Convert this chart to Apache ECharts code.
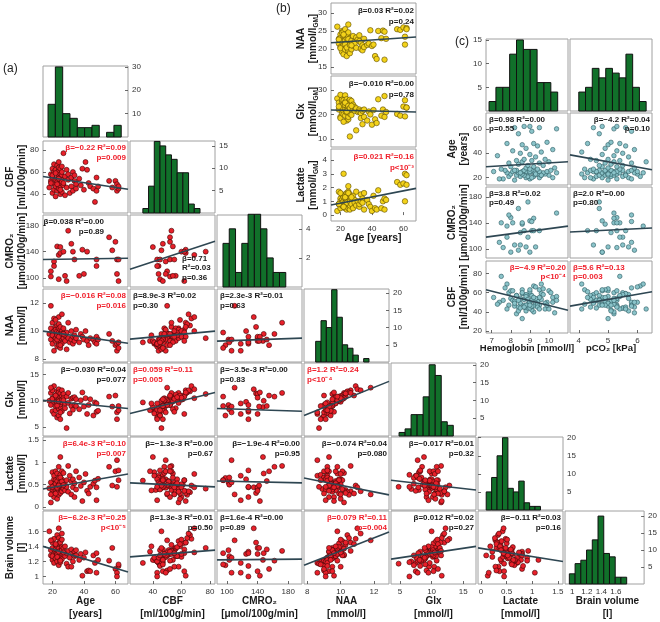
<!DOCTYPE html>
<html><head><meta charset="utf-8">
<script src="https://cdn.jsdelivr.net/npm/echarts@6/dist/echarts.min.js"></script>
<style>html,body{margin:0;padding:0;background:#fff}#c{width:660px;height:622px}</style>
</head><body><div id="c"></div>
<script>
// ---------------- DATA (per subject) ----------------
const age = [18,19,19,20,20,20,21,21,21,21, 22,22,20,19,22,22,23,23,23,23, 23,24,24,24,24,24,24,25,25,25,
  25,25,25,25,26,26,26,26,26,23, 24,25,22,26,27,27,28,28,29,29, 30,30,31,27,32,32,33,33,34,34,
  35,35,37,38,39,40,41,42,43,44, 46,47,48,48,49,56,58,60,61,61, 62,62];
const cbf = [46,58,52,63,41,55,49,67,60,44, 53,38,57,50,62,47,66,54,43,59, 51,69,48,56,61,45,64,52,40,58,
  55,47,63,50,57,42,60,53,65,49, 54,44,59,51,77,48,56,39,62,46, 53,58,41,50,47,55,60,43,52,57,
  49,45,54,48,63,44,69,62,50,47, 45,33,55,43,47,52,46,52,49,43, 45,47];
const cmro2 = [null,null,102,null,null,null,125,null,null,118, null,null,null,110,null,null,null,148,null,null,
  null,135,null,null,null,98,null,null,147,null, null,null,138,null,null,null,null,null,null,null,
  null,null,null,null,140,null,103,null,95,null, 172,null,null,null,152,null,140,null,128,null,
  null,null,103,null,143,106,null,140,null,null, null,null,128,118,null,162,142,155,106,128, 128,95];
const naa = [9.8,10.2,9.4,10.6,9.1,9.9,10.0,10.9,9.6,8.6, 10.3,9.3,9.7,11.8,10.1,9.5,10.4,9.8,8.9,10.0,
  9.7,11.0,9.2,10.2,9.9,9.0,10.5,9.6,9.3,10.1, 9.8,8.8,10.3,9.5,9.9,9.1,10.0,9.7,11.2,9.4,
  9.6,9.0,10.8,9.8,9.5,10.2,9.3,9.7,9.9,8.7, 10.6,9.5,9.2,9.8,9.4,10.0,9.6,9.1,9.3,9.7,
  10.1,9.5,9.2,9.8,9.6,9.4,10.0,9.3,9.0,9.5, 9.4,9.2,9.6,9.1,9.4,9.8,9.3,9.0,8.6,9.1, 9.2,8.8];
const glx = [10.0,11.5,9.2,12.0,8.0,10.5,9.8,12.8,10.2,7.5, 10.8,8.2,10.4,12.5,11.0,9.0,11.8,10.0,6.8,10.6,
  9.6,12.2,8.5,11.2,10.3,7.2,11.6,9.4,8.8,10.7, 10.1,6.5,11.4,9.3,10.0,8.0,10.9,9.7,12.0,9.1,
  9.9,7.8,11.0,10.2,11.3,10.5,8.6,9.5,10.8,4.8, 11.5,9.6,7.6,10.1,9.0,10.4,10.6,8.3,9.2,10.7,
  10.3,9.0,8.4,10.1,11.6,8.9,10.5,7.5,9.2,10.3, 7.2,9.7,7.9,9.5,8.1,10.8,8.9,11.0,7.8,6.5, 8.2,9.0];
const lactate = [0.42,0.10,0.55,0.35,0.78,0.30,0.62,0.48,0.22,0.70, 0.38,0.80,0.45,0.28,0.60,0.52,0.33,0.75,0.40,0.18,
  0.58,0.44,0.90,0.36,0.50,0.65,0.27,0.47,1.12,0.40, 0.55,0.72,0.31,0.46,0.62,0.38,0.51,0.80,0.35,0.43,
  0.48,0.66,0.30,0.57,0.41,0.76,0.50,0.37,0.60,0.45, 0.92,0.34,0.70,0.49,0.58,0.28,0.44,0.62,0.22,0.53,
  0.80,0.39,0.66,0.47,0.13,0.55,0.74,0.36,0.30,0.45, 0.52,0.59,0.44,0.15,0.63,0.90,0.48,0.80,1.05,0.45, 0.82,0.60];
const brainVol = [1.60,1.28,1.35,1.45,1.22,1.38,1.30,1.50,1.26,1.18, 1.42,1.33,1.27,1.48,1.36,1.24,1.55,1.31,1.20,1.40,
  1.29,1.64,1.25,1.37,1.44,1.15,1.51,1.32,1.22,1.47, 1.34,1.19,1.45,1.28,1.39,1.23,1.49,1.30,1.57,1.26,
  1.33,1.21,1.43,1.35,1.38,1.29,1.27,1.40,1.31,1.17, 1.34,1.13,1.25,1.32,1.36,1.13,1.30,1.20,1.33,1.27,
  1.28,1.35,1.22,1.30,1.01,1.25,1.32,1.07,1.08,1.07, 1.28,1.18,1.31,1.05,1.22,1.21,1.38,1.10,1.05,1.00, 1.14,1.16];
// panel (b): grey-matter corrected concentrations
const naaGM = [26.2,21.5,22.8,24.0,20.5,23.0,25.0,19.2,22.0,24.5, 21.0,23.5,20.2,22.6,18.5,24.8,21.8,23.2,19.8,22.4,
  25.5,20.8,23.8,21.2,18.0,22.9,24.2,20.0,26.8,21.6, 23.4,19.5,22.1,24.6,20.6,21.9,23.0,18.8,22.5,21.3,
  20.4,22.7,24.0,21.1,22.3,19.9,23.6,20.9,22.0,21.5, 23.2,20.3,22.6,21.0,23.8,22.2,21.7,20.0,19.6,21.0,
  22.8,20.5,21.1,21.5,25.2,20.8,21.2,18.0,17.2,25.0, 23.0,25.1,24.8,17.0,22.8,25.5,25.3,26.0,23.4,21.2, 25.8,25.5];
const glxGM = [26.5,24.8,22.0,28.0,19.0,23.5,25.5,20.5,22.8,26.0, 21.0,24.0,18.5,23.2,25.8,20.0,22.5,27.8,19.5,23.8,
  25.0,21.5,24.5,17.5,22.2,26.2,20.8,23.6,18.0,25.3, 21.8,24.2,19.0,22.7,26.0,20.3,23.0,11.0,22.1,24.8,
  21.2,23.5,17.0,22.6,25.5,19.8,22.0,24.0,21.5,23.0, 22.5,13.5,21.0,23.5,22.0,21.2,20.5,18.5,16.0,21.5,
  19.0,22.0,17.5,21.2,20.0,15.8,21.8,18.0,16.5,26.2, 19.5,22.0,27.5,19.0,21.0,20.2,19.5,23.2,25.8,19.2, 22.8,22.8];
const lacGM = [0.3,1.7,0.8,1.2,0.5,1.0,1.5,0.7,1.1,0.9, 1.3,0.6,1.6,0.8,1.0,3.0,0.5,1.2,0.9,1.4,
  0.7,1.1,1.6,0.4,1.0,0.8,1.3,0.6,1.7,0.9, 2.1,0.5,1.2,0.8,1.5,1.0,0.4,1.1,0.7,1.3,
  0.9,1.6,0.6,1.0,1.2,0.8,1.4,0.5,1.1,0.9, 1.7,0.7,1.0,1.3,0.6,0.8,1.5,1.0,1.2,0.9,
  1.6,0.4,1.1,0.8,0.6,0.3,1.4,0.5,0.4,1.8, 0.5,1.0,0.4,1.2,1.1,2.4,2.2,2.3,3.0,1.0, 2.2,2.9];
// panel (c)
const hemoglobin = [8.2,9.0,7.6,9.5,8.8,10.2,8.5,9.2,7.9,8.9, 9.6,8.3,9.1,7.4,10.0,8.7,9.3,8.0,9.8,8.6,
  9.4,7.8,8.9,10.4,9.0,8.4,9.7,8.1,9.2,8.8, 7.1,9.5,8.6,9.9,8.3,9.1,10.1,8.7,7.7,9.3,
  8.5,9.0,9.6,8.2,7.5,9.4,8.8,10.3,8.0,9.2, 8.9,9.7,8.4,9.0,7.9,9.5,8.6,10.0,9.1,8.3,
  9.8,8.7,9.3,7.3,9.0,8.5,9.6,8.1,10.2,8.8, 9.4,8.6,9.2,7.8,9.9,8.4,9.1,10.4,8.2,9.5, 8.7,9.0];
const pco2 = [5.0,4.5,5.3,4.2,5.7,4.8,5.1,6.1,4.6,5.5, 4.9,5.2,4.4,5.8,5.0,4.7,6.0,5.3,4.1,5.6,
  5.1,6.2,4.8,5.4,4.3,5.9,5.0,4.6,5.2,5.7, 4.5,5.3,4.9,6.0,4.7,5.1,5.5,4.4,5.8,5.0,
  5.2,4.6,5.6,4.9,5.4,4.2,5.0,5.9,4.8,5.3, 4.7,5.5,5.1,4.5,5.8,4.9,5.2,6.3,4.6,5.4,
  5.0,4.4,5.7,5.2,4.8,5.5,4.1,5.3,5.9,4.9, 5.6,5.0,4.3,5.4,5.1,4.7,5.8,5.2,4.5,5.6, 5.3,4.8];

// histogram counts and bins [first edge, bin width]
const histAge = [14,30,10,8,4,4,5,0,2,5];        const binsAge = [17.2, 4.65];
const histCbf = [1,6,16,15,13,12,9,9,2,1];       const binsCbf = [33, 4];
const histCmro2 = [3,4,1,3,5,5,4,2,1,1];         const binsCmro2 = [94.8, 8.2];
const histNaa = [6,12,10,21,13,5,4,2,0,1];       const binsNaa = [8.5, 0.32];
const histGlx = [1,2,6,6,11,20,17,4,3];          const binsGlx = [4.87, 0.95];
const histLac = [5,9,15,20,6,5,8,2,1,1];         const binsLac = [0.1, 0.106];
const histBv = [3,6,7,10,13,20,9,8,2,2];         const binsBv = [0.96, 0.079];
const histHb = [2,5,5,12,15,13,13,6,6,4];        const binsHb = [6.86, 0.36];
const histPco2 = [4,5,9,7,9,8,7,12,5,2];         const binsPco2 = [4.0, 0.23];

// regression line values [y at axis min, y at axis max], lower triangle row by row
const fitRowCbf = [[56,44.5]];
const fitRowCmro2 = [[128,130],[113,156]];
const fitRowNaa = [[10.0,9.14],[9.43,10.0],[9.29,9.5]];
const fitRowGlx = [[10.1,8.55],[7.6,11.6],[8.55,8.0],[7.2,13.7]];
const fitRowLac = [[0.4,0.74],[0.54,0.45],[0.58,0.54],[0.65,0.27],[0.6,0.38]];
const fitRowBv = [[1.40,1.06],[1.26,1.35],[1.22,1.23],[1.15,1.59],[1.23,1.40],[1.38,1.20]];
const fitB = [[21.7,23.3],[21.8,21.0],[0.73,1.94]];
const fitC = [[29,33],[38.7,26.5],[118,135],[126,132],[63,41.6],[46,61]];

// statistics text and p values
const statsA = [
  ['β=−0.22 R²=0.09\np=0.009',0.009],
  ['β=0.038 R²=0.00\np=0.89',0.89],['β=0.71\nR²=0.03\np=0.36',0.36],
  ['β=−0.016 R²=0.08\np=0.016',0.016],['β=8.9e-3 R²=0.02\np=0.30',0.30],['β=2.3e-3 R²=0.01\np=0.63',0.63],
  ['β=−0.030 R²=0.04\np=0.077',0.077],['β=0.059 R²=0.11\np=0.005',0.005],['β=−3.5e-3 R²=0.00\np=0.83',0.83],['β=1.2 R²=0.24\np<10⁻⁴',0.0001],
  ['β=6.4e-3 R²=0.10\np=0.007',0.007],['β=−1.3e-3 R²=0.00\np=0.67',0.67],['β=−1.9e-4 R²=0.00\np=0.95',0.95],['β=−0.074 R²=0.04\np=0.080',0.080],['β=−0.017 R²=0.01\np=0.32',0.32],
  ['β=−6.2e-3 R²=0.25\np<10⁻⁵',0.00001],['β=1.3e-3 R²=0.01\np=0.50',0.50],['β=1.6e-4 R²=0.00\np=0.89',0.89],['β=0.079 R²=0.11\np=0.004',0.004],['β=0.012 R²=0.02\np=0.27',0.27],['β=−0.11 R²=0.03\np=0.16',0.16]
];
const statsB = [['β=0.03 R²=0.02\np=0.24',0.24],['β=−0.010 R²=0.00\np=0.78',0.78],['β=0.021 R²=0.16\np<10⁻³',0.001]];
const statsC = [['β=0.98 R²=0.00\np=0.55',0.55],['β=−4.2 R²=0.04\np=0.10',0.10],['β=3.8 R²=0.02\np=0.49',0.49],
  ['β=2.0 R²=0.00\np=0.80',0.80],['β=−4.9 R²=0.20\np<10⁻⁴',0.0001],['β=5.6 R²=0.13\np=0.003',0.003]];

// tick labels
const ticksAge = [20,40,60], ticksCbf = [40,60,80], ticksCmro2 = [100,140,180], ticksNaa = [8,10,12],
      ticksGlx = [5,10,15], ticksLac = [0,0.5,1,1.5], ticksBv = [1,1.2,1.4,1.6];
const ticksHistAge = [10,20,30], ticksHistCbf = [5,10,15], ticksHistCmro2 = [2,4], ticksHist20 = [5,10,15,20];
const ticksNaaGM = [15,20,25,30], ticksGlxGM = [10,20,30], ticksLacGM = [0,1,2,3,4];
const ticksHb = [7,8,9,10], ticksPco2 = [4,5,6], ticksCbfC = [20,40,60,80], ticksHistC = [5,10,15];

// ---------------- RENDER ----------------
const FONT = '"Liberation Sans", Arial, sans-serif';
const RED = '#f0202c', DARK = '#1a1a1a';
const G=[], XA=[], YA=[], S=[], GR=[];

function axis(i, range, ticks, pos){
  const a = {gridIndex:i, type:'value', min:range[0], max:range[1], position:pos,
    axisLine:{show:false}, splitLine:{show:false},
    axisTick:{show:false}, axisLabel:{show:false}};
  if (ticks){
    a.axisTick = {show:true, inside:true, length:3, customValues:ticks, lineStyle:{color:'#444', width:0.8}};
    a.axisLabel = {show:true, customValues:ticks, fontSize:8, fontFamily:FONT, color:'#333', margin:4};
  }
  return a;
}
function cell(x,y,w,h,xr,yr,xt,yt,yRight){
  const i = G.length;
  G.push({left:x, top:y, width:w, height:h, show:true, borderColor:'#a0a0a0', borderWidth:1, backgroundColor:'#fff'});
  XA.push(axis(i,xr,xt,'bottom'));
  YA.push(axis(i,yr,yt,yRight?'right':'left'));
  return i;
}
function scatter(i, xs, ys, color, edge, size){
  const d=[];
  for (let k=0;k<xs.length;k++){ if (xs[k]!=null && ys[k]!=null) d.push([xs[k],ys[k]]); }
  S.push({type:'scatter', xAxisIndex:i, yAxisIndex:i, data:d, symbolSize:size, silent:true,
    itemStyle:{color:color, borderColor:edge, borderWidth:0.6, opacity:1}});
}
function fitLine(i, xr, ends){
  S.push({type:'line', xAxisIndex:i, yAxisIndex:i, data:[[xr[0],ends[0]],[xr[1],ends[1]]], symbol:'none', silent:true,
    lineStyle:{color:'#2e4652', width:1.6}, z:3});
}
function hist(i, counts, bins){
  const d = counts.map((c,k)=>[bins[0]+k*bins[1], bins[0]+(k+1)*bins[1], c]).filter(v=>v[2]>0);
  S.push({type:'custom', xAxisIndex:i, yAxisIndex:i, data:d, silent:true, encode:{x:[0,1], y:2},
    renderItem:(p,api)=>{
      const a = api.coord([api.value(0),0]), b = api.coord([api.value(1),api.value(2)]);
      return {type:'rect', shape:{x:a[0], y:b[1], width:b[0]-a[0], height:a[1]-b[1]},
        style:{fill:'#11702a', stroke:'#111', lineWidth:1}};
    }});
}
function text(x,y,t,o){
  o=o||{};
  GR.push({type:'text', x:x, y:y, rotation:o.rot||0, silent:true, z:100,
    style:{text:t, font:o.font||('bold 10px '+FONT), fill:o.color||DARK,
      align:o.align||'center', textAlign:o.align||'center',
      verticalAlign:o.va||'middle', textVerticalAlign:o.va||'middle',
      lineHeight:o.lh||12, rich:o.rich}});
}
function stat(rect, s, place, lh){
  const [x0,y0,w,h] = rect;
  const col = s[1] < 0.05 ? RED : DARK;
  const f = 'bold 8px ' + FONT;
  lh = lh || 10;
  if (place==='tr') text(x0+w-2, y0+2, s[0], {align:'right', va:'top', font:f, color:col, lh:lh});
  else if (place==='tl') text(x0+3, y0+2, s[0], {align:'left', va:'top', font:f, color:col, lh:lh});
  else if (place==='tm') text(x0+61, y0+2, s[0], {align:'right', va:'top', font:f, color:col, lh:lh});
  else if (place==='br') text(x0+52, y0+39, s[0], {align:'left', va:'top', font:f, color:col, lh:9.5});
}

// ---- panel (a)
const colX = [43,130,217,304,391,478,565], colW = 85;
const rowY = [66,141,215,289,363,437,511], rowH = [71,72,72,73,73,73,73];
const vals = [age, cbf, cmro2, naa, glx, lactate, brainVol];
const xRng = [[14,68],[24,83.5],[87,198],[7.8,12.9],[3.6,17],[-0.06,1.6],[0.9,1.99]];
const yRng = [[14,68],[23,88],[86,196],[7.8,13],[3.3,17.2],[-0.07,1.57],[0.9,1.87]];
const ticks = [ticksAge, ticksCbf, ticksCmro2, ticksNaa, ticksGlx, ticksLac, ticksBv];
const hists = [[histAge,binsAge,30.4,ticksHistAge],[histCbf,binsCbf,16.1,ticksHistCbf],[histCmro2,binsCmro2,4.95,ticksHistCmro2],
  [histNaa,binsNaa,21.2,ticksHist20],[histGlx,binsGlx,20.5,ticksHist20],[histLac,binsLac,20.2,ticksHist20],[histBv,binsBv,21.5,ticksHist20]];
const fitsA = [[],fitRowCbf,fitRowCmro2,fitRowNaa,fitRowGlx,fitRowLac,fitRowBv];
const placeA = {'1,0':'tr','2,0':'tm','2,1':'br','3,0':'tr','3,1':'tl','3,2':'tl','4,0':'tr','4,1':'tl','4,2':'tl','4,3':'tl',
  '6,2':'tl'};
let si = 0;
for (let r=0;r<7;r++){
  for (let c=0;c<=r;c++){
    const x=colX[c], y=rowY[r], h=rowH[r];
    if (r===c){
      const hh = hists[r];
      const i = cell(x,y,colW,h,xRng[c],[0,hh[2]], r===6?ticks[c]:null, hh[3], true);
      hist(i, hh[0], hh[1]);
    } else {
      const i = cell(x,y,colW,h,xRng[c],yRng[r], r===6?ticks[c]:null, c===0?ticks[r]:null, false);
      scatter(i, vals[c], vals[r], '#e8202a', '#3a0505', 5);
      fitLine(i, xRng[c], fitsA[r][c]);
      stat([x,y,colW,h], statsA[si], placeA[r+','+c]||'tr');
      si++;
    }
  }
}
const namesA = ['Age\n[years]','CBF\n[ml/100g/min]','CMRO₂\n[μmol/100g/min]','NAA\n[mmol/l]','Glx\n[mmol/l]','Lactate\n[mmol/l]','Brain volume\n[l]'];
for (let r=1;r<7;r++) text(16, rowY[r]+rowH[r]/2, namesA[r], {rot:Math.PI/2, lh:12});
for (let c=0;c<7;c++) text(colX[c]+colW/2, 607.5, namesA[c], {lh:13.5});
text(3, 69, '(a)', {align:'left', font:'12px '+FONT, color:'#222'});

// ---- panel (b)
const bX = 331, bW = 85, bRows = [[3,71],[76,71],[149,72]];
const bVals = [naaGM, glxGM, lacGM];
const bYR = [[13,32.8],[6.7,35.7],[-0.43,4.8]];
const bTicks = [ticksNaaGM, ticksGlxGM, ticksLacGM];
for (let r=0;r<3;r++){
  const [y,h] = bRows[r];
  const i = cell(bX,y,bW,h,[14,68],bYR[r], r===2?ticksAge:null, bTicks[r], false);
  scatter(i, age, bVals[r], '#f3d21a', '#5a4a00', 5.5);
  fitLine(i, [14,68], fitB[r]);
  stat([bX,y,bW,h], statsB[r], 'tr', 11.5);
}
const gmRich = {m:{font:'bold 10px '+FONT, fill:DARK, lineHeight:12, verticalAlign:'top'},
                s:{font:'bold 6.5px '+FONT, fill:DARK, lineHeight:6, verticalAlign:'bottom'}};
const bNames = ['NAA','Glx','Lactate'];
for (let r=0;r<3;r++){
  text(308, bRows[r][0]+bRows[r][1]/2, '{m|'+bNames[r]+'}\n{m|[mmol/l}{s|GM}{m|]}', {rot:Math.PI/2, rich:gmRich});
}
text(373, 238, 'Age [years]', {font:'bold 10.5px '+FONT});
text(276, 9, '(b)', {align:'left', font:'12px '+FONT, color:'#222'});

// ---- panel (c)
const cX = [486,570], cW = 82, cRows = [[39,72],[113,72],[187,71],[261,72]];
const cXR = [[6.7,11],[3.7,6.5]], cXT = [ticksHb, ticksPco2], cXV = [hemoglobin, pco2];
const cHists = [[histHb,binsHb],[histPco2,binsPco2]];
const cYV = [age, cmro2, cbf], cYR = [[14,73],[86,195],[18,93]], cYT = [ticksAge, ticksCmro2, ticksCbfC];
const placeC = ['tl','tr','tl','tl','tr','tl'];
for (let c=0;c<2;c++){
  const i = cell(cX[c], cRows[0][0], cW, cRows[0][1], cXR[c], [0,15.2], null, c===0?ticksHistC:null, false);
  hist(i, cHists[c][0], cHists[c][1]);
}
for (let r=0;r<3;r++){
  for (let c=0;c<2;c++){
    const [y,h] = cRows[r+1];
    const i = cell(cX[c], y, cW, h, cXR[c], cYR[r], r===2?cXT[c]:null, c===0?cYT[r]:null, false);
    scatter(i, cXV[c], cYV[r], '#8ac3c9', '#2b5a61', 4.5);
    fitLine(i, cXR[c], fitC[r*2+c]);
    stat([cX[c],y,cW,h], statsC[r*2+c], placeC[r*2+c], 9.5);
  }
}
const cNames = ['Age\n[years]','CMRO₂\n[μmol/100g/min]','CBF\n[ml/100g/min]'];
for (let r=0;r<3;r++) text(458, cRows[r+1][0]+cRows[r+1][1]/2, cNames[r], {rot:Math.PI/2, lh:12});
text(527, 348, 'Hemoglobin [mmol/l]', {font:'bold 9.5px '+FONT});
text(611, 348, 'pCO₂ [kPa]', {font:'bold 9.5px '+FONT});
text(455, 42, '(c)', {align:'left', font:'12px '+FONT, color:'#222'});

const chart = echarts.init(document.getElementById('c'), null, {renderer:'canvas', width:660, height:622});
chart.setOption({animation:false, backgroundColor:'#fff', grid:G, xAxis:XA, yAxis:YA, series:S, graphic:{elements:GR}});
</script></body></html>
